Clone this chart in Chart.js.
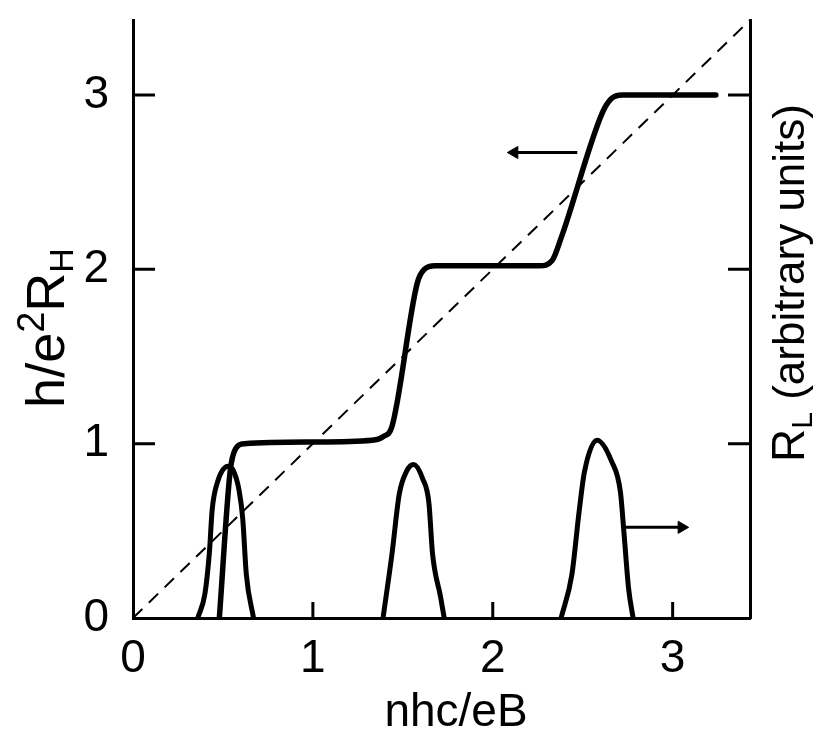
<!DOCTYPE html>
<html>
<head>
<meta charset="utf-8">
<script src="https://cdn.jsdelivr.net/npm/chart.js@4/dist/chart.umd.min.js"></script>
<style>
  html, body { margin: 0; padding: 0; background: #fff; }
  #wrap { width: 831px; height: 730px; }
</style>
</head>
<body>
<div id="wrap"><canvas id="qhe" width="831" height="730"></canvas></div>
<script>
// axis ticks
const xTicks = [0, 1, 2, 3];
const yTicks = [0, 1, 2, 3];
const axisMax = 3.43;

// h/e^2 R_H (left axis) - step curve
const stepX = [0.48, 0.54, 0.57, 0.62, 1.00, 1.33, 1.39, 1.44, 1.58, 1.62, 1.68, 2.00, 2.26, 2.33, 2.38, 2.61, 2.66, 2.72, 2.80, 3.24];
const stepY = [0.00, 0.84, 0.97, 1.00, 1.01, 1.02, 1.04, 1.10, 1.92, 2.00, 2.02, 2.02, 2.02, 2.05, 2.18, 2.90, 2.98, 3.00, 3.00, 3.00];

// classical line
const diagX = [0, 3.43];
const diagY = [0, 3.43];

// R_L peaks (right axis, arbitrary units)
const peak1X = [0.36, 0.40, 0.425, 0.44, 0.47, 0.53, 0.56, 0.59, 0.61, 0.63, 0.67];
const peak1Y = [0.00, 0.14, 0.38, 0.62, 0.78, 0.87, 0.84, 0.73, 0.57, 0.25, 0.00];
const peak2X = [1.39, 1.44, 1.48, 1.52, 1.56, 1.61, 1.645, 1.665, 1.71, 1.73];
const peak2Y = [0.00, 0.37, 0.71, 0.84, 0.88, 0.80, 0.66, 0.37, 0.12, 0.00];
const peak3X = [2.38, 2.44, 2.48, 2.51, 2.58, 2.66, 2.71, 2.73, 2.755, 2.78];
const peak3Y = [0.00, 0.25, 0.61, 0.84, 1.02, 0.90, 0.72, 0.48, 0.17, 0.00];

// arrows pointing at the axis each curve belongs to
const arrowLeftX = [2.47, 2.12];
const arrowLeftY = [2.67, 2.67];
const arrowRightX = [2.72, 3.05];
const arrowRightY = [0.52, 0.52];

const FONT = "'Liberation Sans', Arial, sans-serif";
const INK = '#000';

function pts(xs, ys) {
  return xs.map((x, i) => ({ x: x, y: ys[i] }));
}

function curve(xs, ys, axis, width) {
  return {
    data: pts(xs, ys),
    yAxisID: axis,
    borderColor: INK,
    borderWidth: width,
    pointRadius: 0,
    cubicInterpolationMode: 'monotone',
    borderCapStyle: 'round',
    borderJoinStyle: 'round',
    fill: false
  };
}

function arrow(xs, ys, axis, rot) {
  return {
    data: pts(xs, ys),
    yAxisID: axis,
    borderColor: INK,
    backgroundColor: INK,
    borderWidth: 3,
    pointStyle: 'triangle',
    pointRadius: [0, 7],
    pointRotation: [0, rot],
    pointBorderWidth: 1,
    tension: 0
  };
}

// inward tick marks and axis titles with sub/superscripts
const decor = {
  id: 'decor',
  afterDraw(chart) {
    const ctx = chart.ctx;
    const a = chart.chartArea;
    const sx = chart.scales.x, sy = chart.scales.y;
    ctx.save();
    ctx.strokeStyle = INK;
    ctx.lineWidth = 3;
    ctx.beginPath();
    xTicks.filter(v => v > 0).forEach(v => {
      const p = sx.getPixelForValue(v);
      ctx.moveTo(p, a.bottom); ctx.lineTo(p, a.bottom - 16);
    });
    yTicks.filter(v => v > 0).forEach(v => {
      const p = sy.getPixelForValue(v);
      ctx.moveTo(a.left, p); ctx.lineTo(a.left + 22, p);
      ctx.moveTo(a.right, p); ctx.lineTo(a.right - 22, p);
    });
    ctx.stroke();

    ctx.fillStyle = INK;
    ctx.textBaseline = 'alphabetic';

    // x title
    ctx.font = '46px ' + FONT;
    ctx.textAlign = 'center';
    ctx.fillText('nhc/eB', 456, 726);

    // runs: [text, size, baseline shift]
    function drawRuns(runs, cx, cy) {
      ctx.textAlign = 'left';
      let total = 0;
      runs.forEach(r => { ctx.font = r[1] + 'px ' + FONT; total += ctx.measureText(r[0]).width; });
      let x = cx - total / 2;
      runs.forEach(r => {
        ctx.font = r[1] + 'px ' + FONT;
        ctx.fillText(r[0], x, cy + r[2]);
        x += ctx.measureText(r[0]).width;
      });
    }

    // left title
    ctx.save();
    ctx.translate(64, 328);
    ctx.rotate(-Math.PI / 2);
    drawRuns([['h/e', 54, 0], ['2', 38, -20], ['R', 54, 0], ['H', 34, 9]], 0, 0);
    ctx.restore();

    // right title
    ctx.save();
    ctx.translate(804, 283);
    ctx.rotate(-Math.PI / 2);
    drawRuns([['R', 46, 0], ['L', 30, 8], [' (arbitrary units)', 44, 0]], 0, 0);
    ctx.restore();

    ctx.restore();
  }
};

const axisBase = {
  type: 'linear',
  min: 0,
  max: axisMax,
  grid: { display: true, drawOnChartArea: false, drawTicks: false },
  border: { display: true, width: 3, color: INK }
};

function fixPad(s) {
  s.paddingTop = 0; s.paddingBottom = 0; s.paddingLeft = 0; s.paddingRight = 0;
}

new Chart(document.getElementById('qhe').getContext('2d'), {
  type: 'line',
  data: {
    datasets: [
      {
        data: pts(diagX, diagY),
        yAxisID: 'y',
        borderColor: INK,
        borderWidth: 2,
        borderDash: [13, 9],
        pointRadius: 0,
        tension: 0
      },
      curve(stepX, stepY, 'y', 5.5),
      curve(peak1X, peak1Y, 'y2', 5),
      curve(peak2X, peak2Y, 'y2', 5),
      curve(peak3X, peak3Y, 'y2', 5),
      arrow(arrowLeftX, arrowLeftY, 'y', 270),
      arrow(arrowRightX, arrowRightY, 'y2', 90)
    ]
  },
  options: {
    responsive: false,
    animation: false,
    layout: { padding: { top: 20, left: 0, right: 0, bottom: 0 } },
    plugins: { legend: { display: false }, tooltip: { enabled: false } },
    scales: {
      x: Object.assign({}, axisBase, {
        position: 'bottom',
        afterBuildTicks: s => { s.ticks = xTicks.map(v => ({ value: v })); },
        afterFit: s => { s.height = 112; fixPad(s); },
        ticks: { color: INK, font: { family: FONT, size: 46 }, padding: 14, maxRotation: 0, autoSkip: false }
      }),
      y: Object.assign({}, axisBase, {
        position: 'left',
        afterBuildTicks: s => { s.ticks = yTicks.map(v => ({ value: v })); },
        afterFit: s => { s.width = 133; fixPad(s); },
        ticks: { color: INK, font: { family: FONT, size: 46 }, padding: 24, autoSkip: false }
      }),
      y2: Object.assign({}, axisBase, {
        position: 'right',
        afterBuildTicks: s => { s.ticks = yTicks.map(v => ({ value: v })); },
        afterFit: s => { s.width = 81; fixPad(s); },
        ticks: { display: false }
      })
    }
  },
  plugins: [decor]
});
</script>
</body>
</html>
